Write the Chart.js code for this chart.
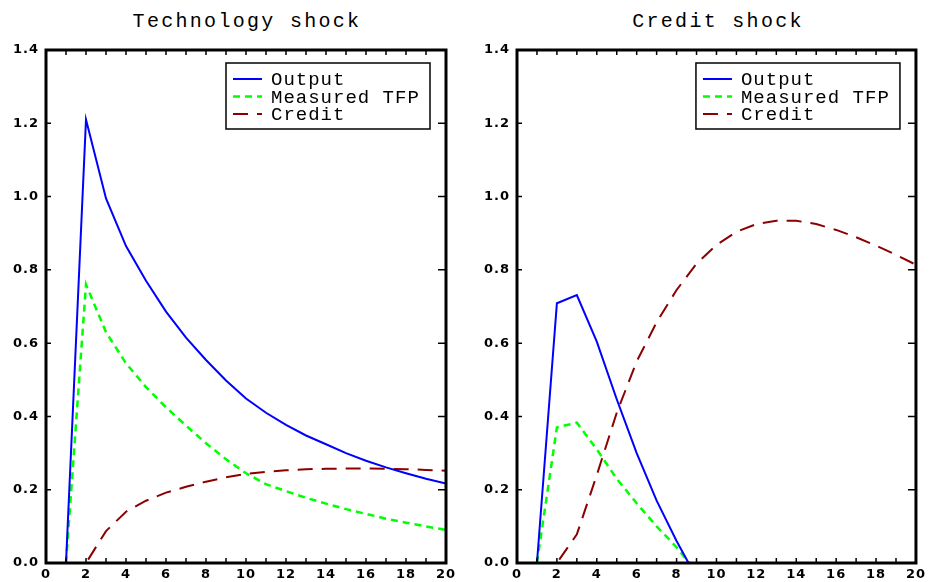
<!DOCTYPE html>
<html>
<head>
<meta charset="utf-8">
<title>Technology shock / Credit shock</title>
<script src="https://cdn.jsdelivr.net/npm/chart.js@4.4.1/dist/chart.umd.min.js"></script>
<style>
  html, body { margin: 0; padding: 0; background: #fff; }
  #wrap { position: relative; width: 929px; height: 582px; overflow: hidden; }
  .panel { position: absolute; top: 0; }
  .title {
    position: absolute; top: 12px; width: 400px; text-align: center;
    font-family: "Liberation Mono", monospace; font-size: 20px; line-height: 20px;
    letter-spacing: 2.3px; color: #000;
  }
</style>
</head>
<body>
<div id="wrap">
  <div class="title" style="left:47px">Technology shock</div>
  <div class="title" style="left:518px">Credit shock</div>
  <canvas id="techChart" class="panel" style="left:0" width="465" height="582"></canvas>
  <canvas id="creditChart" class="panel" style="left:465px" width="464" height="582"></canvas>
</div>
<script>
// quarters after the shock
const periods = [1, 2, 3, 4, 5, 6, 7, 8, 9, 10, 11, 12, 13, 14, 15, 16, 17, 18, 19, 20];
const xTicks = [0, 2, 4, 6, 8, 10, 12, 14, 16, 18, 20];
const yTicks = [0.0, 0.2, 0.4, 0.6, 0.8, 1.0, 1.2, 1.4];
const seriesNames = ['Output', 'Measured TFP', 'Credit'];

// technology shock
const techOutput = [0, 1.21, 0.995, 0.865, 0.77, 0.686, 0.615, 0.554, 0.498, 0.449, 0.41, 0.377, 0.348, 0.324, 0.3, 0.279, 0.261, 0.245, 0.23, 0.217];
const techTfp = [0, 0.76, 0.63, 0.545, 0.48, 0.425, 0.375, 0.327, 0.283, 0.245, 0.215, 0.196, 0.178, 0.162, 0.147, 0.134, 0.121, 0.11, 0.1, 0.09];
const techCredit = [0, 0, 0.087, 0.14, 0.17, 0.192, 0.208, 0.222, 0.234, 0.243, 0.249, 0.253, 0.256, 0.257, 0.258, 0.258, 0.257, 0.256, 0.254, 0.252];

// credit shock (output and TFP fall below zero after period 8)
const creditOutput = [0, 0.709, 0.731, 0.604, 0.447, 0.3, 0.17, 0.06, -0.04, null, null, null, null, null, null, null, null, null, null, null];
const creditTfp = [0, 0.37, 0.383, 0.31, 0.23, 0.163, 0.1, 0.043, -0.025, null, null, null, null, null, null, null, null, null, null, null];
const creditCredit = [0, 0, 0.078, 0.24, 0.41, 0.55, 0.657, 0.745, 0.817, 0.868, 0.904, 0.925, 0.934, 0.934, 0.925, 0.909, 0.889, 0.866, 0.841, 0.814];

const colors = ['#0000ff', '#00ff00', '#8b0000'];
const dashes = [[], [7, 5], [15, 9]];
const widths = [2, 2.5, 2];

const tickFont = { family: 'DejaVu Sans', size: 13, weight: 'bold' };

function makeDatasets(series) {
  return series.map((vals, i) => ({
    label: seriesNames[i],
    data: periods.map((p, j) => ({ x: p, y: vals[j] })),
    borderColor: colors[i],
    borderDash: dashes[i],
    borderWidth: widths[i],
    pointRadius: 0,
    tension: 0,
    fill: false
  }));
}

// box frame, inward ticks on all sides and the boxed legend
const frameAndLegend = {
  id: 'frameAndLegend',
  beforeDraw(chart) {
    chart.ctx.letterSpacing = '1px';
  },
  afterDraw(chart) {
    const { ctx, chartArea: a } = chart;
    const x = chart.scales.x, y = chart.scales.y;
    ctx.save();
    ctx.setLineDash([]);
    ctx.strokeStyle = '#000';
    ctx.lineWidth = 1.5;
    ctx.beginPath();
    for (let v = x.min; v <= x.max; v++) {
      const px = x.getPixelForValue(v);
      ctx.moveTo(px, a.bottom); ctx.lineTo(px, a.bottom - 5);
      ctx.moveTo(px, a.top); ctx.lineTo(px, a.top + 5);
    }
    yTicks.forEach(v => {
      const py = y.getPixelForValue(v);
      ctx.moveTo(a.left, py); ctx.lineTo(a.left + 5, py);
      ctx.moveTo(a.right, py); ctx.lineTo(a.right - 8, py);
    });
    ctx.stroke();
    ctx.lineWidth = 3;
    ctx.strokeRect(a.left, a.top, a.right - a.left, a.bottom - a.top);

    // legend
    const w = 204, h = 66;
    const bx = a.right - 16 - w, by = a.top + 13;
    ctx.fillStyle = '#fff';
    ctx.fillRect(bx, by, w, h);
    ctx.lineWidth = 1.5;
    ctx.strokeRect(bx, by, w, h);
    ctx.font = '19px "Liberation Mono", monospace';
    ctx.letterSpacing = '1px';
    ctx.textBaseline = 'alphabetic';
    ctx.textAlign = 'left';
    chart.data.datasets.forEach((ds, i) => {
      const ly = by + 16 + i * 17.5;
      ctx.beginPath();
      ctx.setLineDash(ds.borderDash);
      ctx.strokeStyle = ds.borderColor;
      ctx.lineWidth = ds.borderWidth;
      ctx.moveTo(bx + 7, ly);
      ctx.lineTo(bx + 36, ly);
      ctx.stroke();
      ctx.setLineDash([]);
      ctx.fillStyle = '#000';
      ctx.fillText(ds.label, bx + 45, ly + 6);
    });
    ctx.restore();
  }
};

function makeChart(id, series, yWidth, padRight) {
  return new Chart(document.getElementById(id), {
    type: 'line',
    data: { datasets: makeDatasets(series) },
    options: {
      responsive: false,
      animation: false,
      devicePixelRatio: 1,
      layout: { padding: { top: 50, right: padRight, left: 0, bottom: 0 } },
      plugins: { legend: { display: false }, title: { display: false }, tooltip: { enabled: false } },
      scales: {
        x: {
          type: 'linear',
          min: 0, max: 20,
          afterBuildTicks: s => { s.ticks = xTicks.map(v => ({ value: v })); },
          afterFit: s => { s.height = 19; },
          grid: { display: false, drawTicks: false },
          border: { display: false },
          ticks: { color: '#000', font: tickFont, padding: 4, autoSkip: false, maxRotation: 0 }
        },
        y: {
          min: 0, max: 1.4,
          afterBuildTicks: s => { s.ticks = yTicks.map(v => ({ value: v })); },
          afterFit: s => { s.width = yWidth; },
          grid: { display: false, drawTicks: false },
          border: { display: false },
          ticks: { color: '#000', font: tickFont, padding: 7, callback: v => v.toFixed(1) }
        }
      }
    },
    plugins: [frameAndLegend]
  });
}

makeChart('techChart', [techOutput, techTfp, techCredit], 46, 19);
makeChart('creditChart', [creditOutput, creditTfp, creditCredit], 52, 12);
</script>
</body>
</html>
